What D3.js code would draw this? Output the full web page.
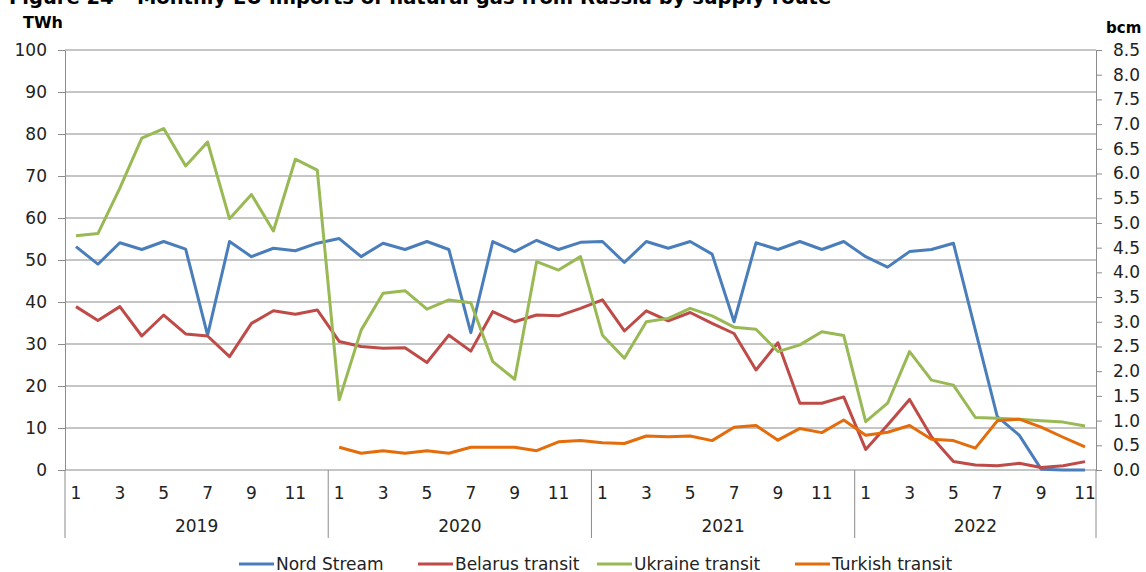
<!DOCTYPE html>
<html>
<head>
<meta charset="utf-8">
<script src="https://cdn.jsdelivr.net/npm/d3@7"></script>
<style>
  body { margin: 0; background: #fff; }
  svg { font-family: "DejaVu Sans", Verdana, sans-serif; }
</style>
</head>
<body>
<svg width="1146" height="572"></svg>
<script>
var years = ["2019", "2020", "2021", "2022"];
var monthTicks = [1, 3, 5, 7, 9, 11];
var twhTicks = [0, 10, 20, 30, 40, 50, 60, 70, 80, 90, 100];
var bcmTicks = [0, 0.5, 1, 1.5, 2, 2.5, 3, 3.5, 4, 4.5, 5, 5.5, 6, 6.5, 7, 7.5, 8, 8.5];

// monthly values in TWh, 2019-01 .. 2022-11
var nordStream = [53.2, 49.0, 54.1, 52.5, 54.4, 52.6, 32.1, 54.4, 50.8, 52.8, 52.2, 54.0,
  55.1, 50.8, 54.0, 52.5, 54.4, 52.5, 32.7, 54.4, 52.0, 54.7, 52.5, 54.2,
  54.4, 49.4, 54.4, 52.8, 54.4, 51.4, 35.3, 54.1, 52.5, 54.4, 52.5, 54.4,
  50.8, 48.3, 52.0, 52.5, 54.0, 33.3, 12.7, 8.3, 0.2, 0, 0];
var belarus = [38.9, 35.6, 38.9, 31.9, 36.9, 32.4, 31.9, 27.0, 34.9, 37.9, 37.1, 38.1,
  30.6, 29.4, 29.0, 29.1, 25.6, 32.1, 28.3, 37.7, 35.3, 36.9, 36.7, 38.5,
  40.5, 33.1, 37.9, 35.5, 37.5, 34.9, 32.5, 23.8, 30.3, 15.9, 15.9, 17.4,
  4.9, 10.7, 16.8, 7.9, 2.0, 1.2, 1.0, 1.6, 0.6, 1.0, 2.0];
var ukraine = [55.8, 56.3, 67.1, 79.0, 81.3, 72.4, 78.1, 59.8, 65.6, 56.9, 74.0, 71.4,
  16.7, 33.3, 42.1, 42.7, 38.3, 40.5, 39.8, 25.8, 21.6, 49.6, 47.6, 50.8,
  32.1, 26.6, 35.3, 36.1, 38.5, 36.7, 34.0, 33.5, 28.2, 29.8, 32.9, 32.0,
  11.5, 15.9, 28.2, 21.4, 20.2, 12.5, 12.3, 12.1, 11.7, 11.4, 10.5];
var turkish = [null, null, null, null, null, null, null, null, null, null, null, null,
  5.4, 4.0, 4.6, 4.0, 4.6, 4.0, 5.4, 5.4, 5.4, 4.6, 6.7, 7.0,
  6.5, 6.3, 8.1, 7.9, 8.1, 7.0, 10.2, 10.6, 7.1, 9.9, 8.9, 11.9,
  8.3, 9.0, 10.6, 7.3, 7.0, 5.2, 11.7, 12.1, 10.2, 7.8, 5.5];

var seriesNames = ["Nord Stream", "Belarus transit", "Ukraine transit", "Turkish transit"];
var seriesColors = ["#4a7ebb", "#be4b48", "#98b954", "#e46c0a"];
var seriesData = [nordStream, belarus, ukraine, turkish];

var months = [];
years.forEach(function(yr) {
  for (var m = 1; m <= 12; m++) {
    if (yr === "2022" && m > 11) break;
    months.push(yr + "-" + m);
  }
});

var svg = d3.select("svg");
var plotLeft = 65, plotRight = 1096, plotTop = 50, plotBottom = 470;
var fs = 17;

var x = d3.scaleBand().domain(months).range([plotLeft, plotRight]);
var y = d3.scaleLinear().domain([0, 100]).range([plotBottom, plotTop]);
var y2 = d3.scaleLinear().domain([0, 8.5]).range([plotBottom, plotTop]);

// title (cut off at the top)
svg.append("text")
    .attr("x", 9).attr("y", 4)
    .attr("font-size", 19.5).attr("font-weight", "bold")
    .attr("fill", "#000")
    .text("Figure 24 – Monthly EU imports of natural gas from Russia by supply route");

svg.append("text").attr("x", 23).attr("y", 28)
    .attr("font-size", 16).attr("font-weight", "bold").text("TWh");
svg.append("text").attr("x", 1106).attr("y", 33)
    .attr("font-size", 15).attr("font-weight", "bold").text("bcm");

// gridlines
svg.append("g").selectAll("line").data(twhTicks).join("line")
    .attr("x1", plotLeft).attr("x2", plotRight)
    .attr("y1", function(d) { return y(d); }).attr("y2", function(d) { return y(d); })
    .attr("stroke", "#8c8c8c").attr("stroke-width", 1);

// left axis
var yAxis = svg.append("g")
    .attr("transform", "translate(" + plotLeft + ",0)")
    .call(d3.axisLeft(y).tickValues(twhTicks).tickSize(7).tickSizeOuter(0).tickPadding(11));
yAxis.selectAll("line, path").attr("stroke", "#8c8c8c");
yAxis.selectAll("text").attr("font-size", fs).attr("fill", "#222").attr("font-family", "DejaVu Sans");

// right axis
var y2Axis = svg.append("g")
    .attr("transform", "translate(" + plotRight + ",0)")
    .call(d3.axisRight(y2).tickValues(bcmTicks).tickFormat(d3.format(".1f")).tickSize(6).tickSizeOuter(0).tickPadding(11));
y2Axis.selectAll("line, path").attr("stroke", "#8c8c8c");
y2Axis.selectAll("text").attr("font-size", fs).attr("fill", "#222").attr("font-family", "DejaVu Sans");

// x axis: month labels, year separators, year labels
var xg = svg.append("g");
var monthLabels = months.filter(function(d) { return monthTicks.indexOf(+d.split("-")[1]) >= 0; });
xg.selectAll("text.m").data(monthLabels).join("text")
    .attr("class", "m")
    .attr("x", function(d) { return x(d) + x.bandwidth() / 2; })
    .attr("y", 499)
    .attr("text-anchor", "middle")
    .attr("font-size", fs).attr("fill", "#222")
    .text(function(d) { return d.split("-")[1]; });

var yearEdges = years.map(function(yr) { return x(yr + "-1"); }).concat([plotRight]);
xg.selectAll("line.sep").data(yearEdges).join("line")
    .attr("class", "sep")
    .attr("x1", function(d) { return d; }).attr("x2", function(d) { return d; })
    .attr("y1", plotBottom).attr("y2", 538)
    .attr("stroke", "#8c8c8c");

xg.selectAll("text.yr").data(years).join("text")
    .attr("class", "yr")
    .attr("x", function(d, i) { return (yearEdges[i] + yearEdges[i + 1]) / 2; })
    .attr("y", 532)
    .attr("text-anchor", "middle")
    .attr("font-size", fs).attr("fill", "#222")
    .text(function(d) { return d; });

// lines
var line = d3.line()
    .defined(function(d) { return d != null; })
    .x(function(d, i) { return x(months[i]) + x.bandwidth() / 2; })
    .y(function(d) { return y(d); });

seriesData.forEach(function(s, k) {
  svg.append("path")
      .datum(s)
      .attr("fill", "none")
      .attr("stroke", seriesColors[k])
      .attr("stroke-width", 3)
      .attr("stroke-linejoin", "round")
      .attr("d", line);
});

// legend
var legendX = [239, 418, 597, 795];
var legend = svg.append("g").selectAll("g").data(seriesNames).join("g")
    .attr("transform", function(d, i) { return "translate(" + legendX[i] + ",564)"; });
legend.append("line")
    .attr("x1", 0).attr("x2", 35)
    .attr("stroke", function(d, i) { return seriesColors[i]; })
    .attr("stroke-width", 3);
legend.append("text")
    .attr("x", 37).attr("y", 6)
    .attr("font-size", fs).attr("fill", "#222")
    .text(function(d) { return d; });
</script>
</body>
</html>
